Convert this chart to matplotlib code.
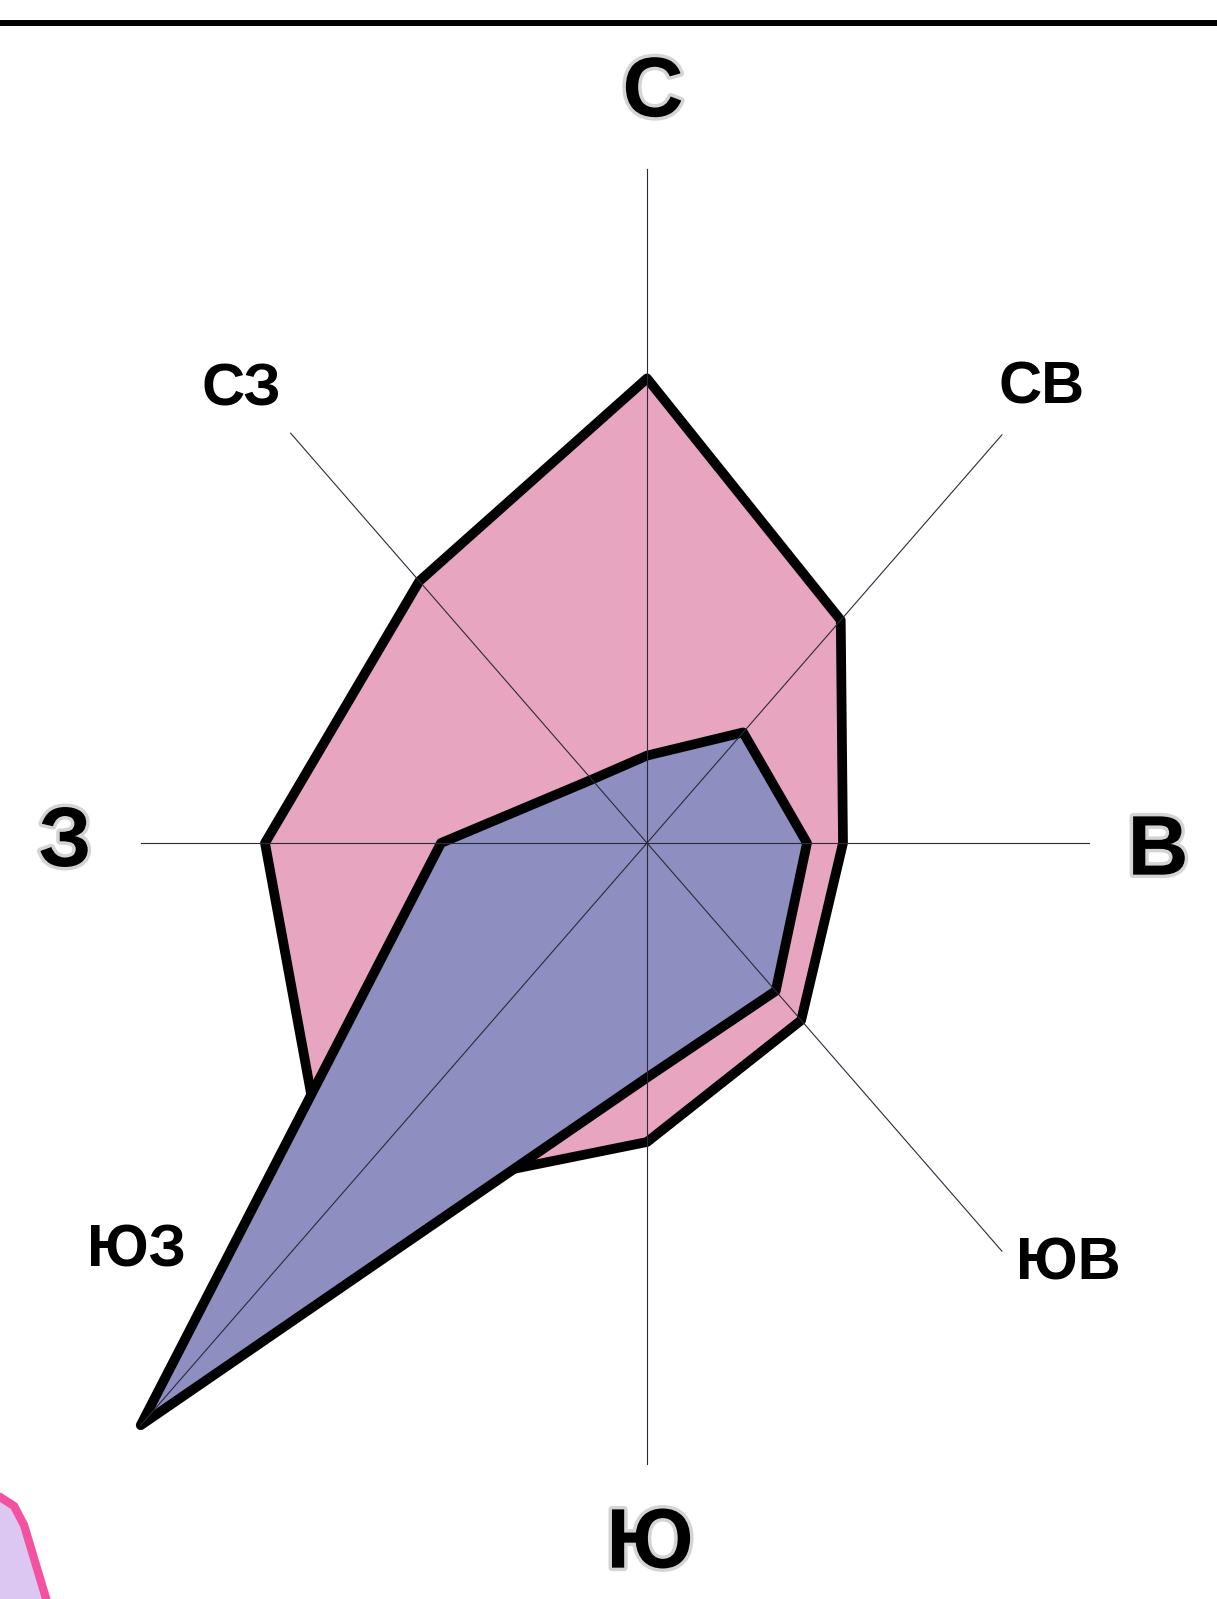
import numpy as np
import matplotlib.pyplot as plt
import matplotlib.patheffects as pe
from matplotlib.lines import Line2D
from matplotlib.patches import Polygon

plt.rcParams['font.family'] = ['Liberation Sans', 'DejaVu Sans']

# румб: С, СВ, В, ЮВ, Ю, ЮЗ, З, СЗ
directions = ['С', 'СВ', 'В', 'ЮВ', 'Ю', 'ЮЗ', 'З', 'СЗ']
pink_vals = [20.2, 13.7, 9.8, 10.9, 13.0, 22.3, 19.1, 16.1]
blue_vals = [3.8, 6.8, 8.0, 9.1, 10.2, 35.8, 10.3, 3.9]
spoke_len = [29.3, 25.1, 22.1, 25.1, 27.0, 35.8, 25.3, 25.2]

label_x = [0.3, 19.75, 25.55, 21.05, 0.15, -25.55, -29.1, -20.3]
label_y = [32.55, 19.78, -0.42, -18.31, -30.55, -17.75, -0.05, 19.69]
main_dirs = ['С', 'В', 'Ю', 'З']

angles = np.deg2rad(np.arange(0, 360, 45))


def to_xy(r):
    r = np.asarray(r, dtype=float)
    return r * np.sin(angles), r * np.cos(angles)


fig = plt.figure(figsize=(12.17, 15.99), dpi=100)
ax = fig.add_axes([0, 0, 1, 1])
# unequal scale: 20 px per unit across, 23 px per unit up
ax.set_xlim(-647 / 20, (1217 - 647) / 20)
ax.set_ylim(-(1599 - 843) / 23, 843 / 23)
ax.axis('off')

px, py = to_xy(pink_vals)
ax.fill(px, py, facecolor='#e8a5c0', edgecolor='black', linewidth=7.0,
        joinstyle='round', zorder=2)
bx, by = to_xy(blue_vals)
ax.fill(bx, by, facecolor='#8e8ec0', edgecolor='black', linewidth=7.0,
        joinstyle='round', zorder=3)

sx, sy = to_xy(spoke_len)
for x, y in zip(sx, sy):
    ax.plot([0, x], [0, y], color='#2a2a3a', linewidth=0.8, zorder=4)

for name, x, y in zip(directions, label_x, label_y):
    if name in main_dirs:
        ax.text(x, y, name, fontsize=61, fontweight='bold', ha='center', va='center',
                path_effects=[pe.withStroke(linewidth=5, foreground='#d4d4d4')], zorder=5)
    else:
        ax.text(x, y, name, fontsize=43, fontweight='bold', ha='center', va='center', zorder=5)

# top rule
fig.add_artist(Line2D([0, 1], [1 - 23 / 1599] * 2, transform=fig.transFigure,
                      color='black', linewidth=4.3))

# cropped shape in the lower left corner
deco = fig.add_axes([0, 0, 1, 1], zorder=-1)
deco.set_xlim(0, 1217)
deco.set_ylim(1599, 0)
deco.axis('off')
deco.add_patch(Polygon([(-40, 1495), (0, 1497), (14, 1506), (24, 1525), (54, 1625),
                        (8, 1625), (-40, 1545)], closed=True,
                       facecolor='#dcc6f2', edgecolor='#f2529f', linewidth=6))

fig.savefig('out.png', dpi=100)
